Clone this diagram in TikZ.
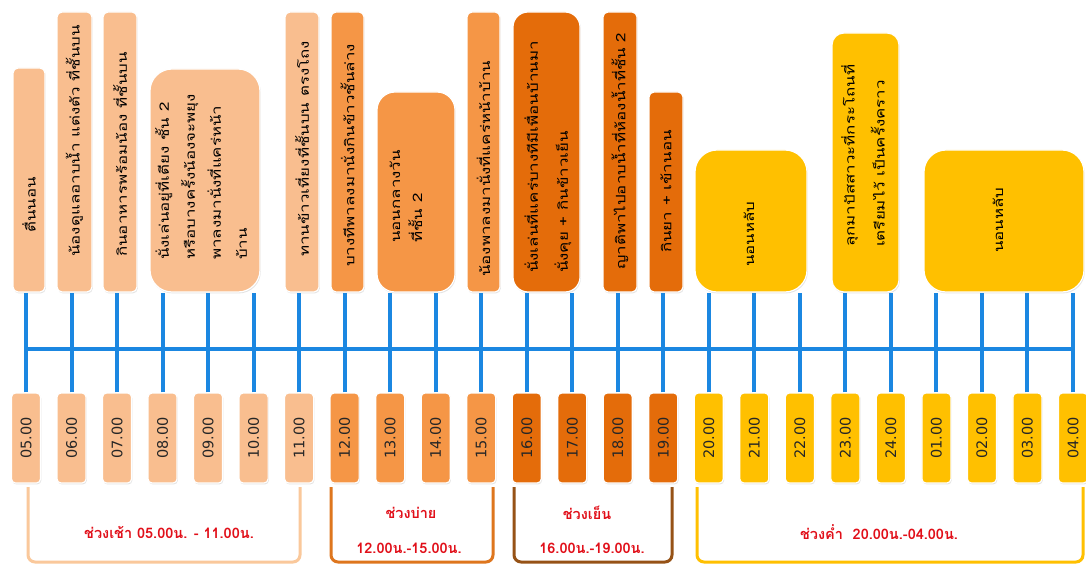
\documentclass[tikz,border=0pt]{standalone}
\usepackage{fontspec}
\newfontfamily\thai[Script=Thai]{Loma}
\newfontfamily\thaiw[Script=Thai,FakeStretch=1.3]{Loma}
\newfontfamily\dv{DejaVu Sans}
\usetikzlibrary{shadows}
\definecolor{peach}{RGB}{249,190,143}
\definecolor{midor}{RGB}{245,150,70}
\definecolor{darkor}{RGB}{228,108,10}
\definecolor{gold}{RGB}{255,192,0}
\definecolor{tblue}{RGB}{27,135,225}
\definecolor{brpeach}{RGB}{250,200,155}
\definecolor{brorange}{RGB}{222,118,30}
\definecolor{brbrown}{RGB}{150,82,22}
\definecolor{redtxt}{RGB}{225,15,25}
\begin{document}
\begin{tikzpicture}[x=1pt,y=-1pt,
  box/.style={draw=white, line width=1.2pt, rounded corners=#1, inner sep=0pt,
    drop shadow={opacity=0.22, shadow xshift=0.8pt, shadow yshift=-1.4pt}},
  tbox/.style={box=4pt, minimum width=29pt, minimum height=90pt,
    font=\dv\fontsize{14.5}{15}\selectfont, text=black!85},
  tt/.style={rotate=90, anchor=west, align=left, inner sep=0pt,
    font=\thaiw\fontsize{13}{26}\selectfont},
  tick/.style={draw=tblue, line width=4pt},
  brk/.style={line width=3pt, rounded corners=7pt},
  btxt/.style={text=redtxt, font=\thai\bfseries\fontsize{14.5}{14.5}\selectfont, inner sep=0pt}]
\useasboundingbox (0,0) rectangle (1086,564);
\fill[white] (0,0) rectangle (1086,564);

% top boxes
\node[box=5pt, fill=peach, minimum width=32pt, minimum height=224pt] (b1) at (29,180) {};
\node[box=5pt, fill=peach, minimum width=35pt, minimum height=280pt] (b2) at (74.5,152) {};
\node[box=5pt, fill=peach, minimum width=34pt, minimum height=280pt] (b3) at (120,152) {};
\node[box=22pt, fill=peach, minimum width=110pt, minimum height=223pt] (b4) at (205,180.5) {};
\node[box=5pt, fill=peach, minimum width=34pt, minimum height=280pt] (b5) at (302,152) {};
\node[box=5pt, fill=midor, minimum width=33pt, minimum height=280pt] (b6) at (347.5,152) {};
\node[box=18pt, fill=midor, minimum width=78pt, minimum height=200pt] (b7) at (416,192) {};
\node[box=5pt, fill=midor, minimum width=33pt, minimum height=280pt] (b8) at (483.5,152) {};
\node[box=15pt, fill=darkor, minimum width=67pt, minimum height=280pt] (b9) at (546.5,152) {};
\node[box=5pt, fill=darkor, minimum width=34pt, minimum height=280pt] (b10) at (620,152) {};
\node[box=5pt, fill=darkor, minimum width=34pt, minimum height=200pt] (b11) at (666,192) {};
\node[box=22pt, fill=gold, minimum width=112pt, minimum height=142pt] (b12) at (751,221) {};
\node[box=12pt, fill=gold, minimum width=67pt, minimum height=259pt] (b13) at (865.5,162.5) {};
\node[box=22pt, fill=gold, minimum width=160pt, minimum height=142pt] (b14) at (1004,221) {};

% texts in top boxes
\node[tt] (t1) at (29,233) {ตื่นนอน};
\node[tt] (t2) at (74.5,257) {น้องดูแลอาบน้ำ แต่งตัว ที่ชั้นบน};
\node[tt] (t3) at (120,257) {กินอาหารพร้อมน้อง ที่ชั้นบน};
\node[tt] (t4) at (201,260) {นั่งเล่นอยู่ที่เตียง ชั้น 2\\หรือบางครั้งน้องจะพยุง\\พาลงมานั่งที่แคร่หน้า\\บ้าน};
\node[tt] (t5) at (302,257) {ทานข้าวเที่ยงที่ชั้นบน ตรงโถง};
\node[tt] (t6) at (347.5,267) {บางทีพาลงมานั่งกินข้าวชั้นล่าง};
\node[tt, font=\thaiw\fontsize{13}{22}\selectfont] (t7) at (406,243) {นอนกลางวัน\\ที่ชั้น 2};
\node[tt] (t8) at (483.5,277) {น้องพาลงมานั่งที่แคร่หน้าบ้าน};
\node[tt, font=\thaiw\fontsize{13}{30}\selectfont] (t9) at (548,273) {นั่งเล่นที่แคร่บางทีมีเพื่อนบ้านมา\\นั่งคุย + กินข้าวเย็น};
\node[tt] (t10) at (620,270) {ญาติพาไปอาบน้ำที่ห้องน้ำที่ชั้น 2};
\node[tt] (t11) at (666,253) {กินยา + เข้านอน};
\node[tt] (t12) at (749,267) {นอนหลับ};
\node[tt, font=\thaiw\fontsize{13}{30}\selectfont] (t13) at (863,247) {ลุกมาปัสสาวะที่กระโถนที่\\เตรียมไว้ เป็นครั้งคราว};
\node[tt] (t14) at (998,253) {นอนหลับ};

% time boxes
\foreach \i/\lab/\col in {0/05.00/peach,1/06.00/peach,2/07.00/peach,3/08.00/peach,4/09.00/peach,5/10.00/peach,6/11.00/peach,
  7/12.00/midor,8/13.00/midor,9/14.00/midor,10/15.00/midor,
  11/16.00/darkor,12/17.00/darkor,13/18.00/darkor,14/19.00/darkor,
  15/20.00/gold,16/21.00/gold,17/22.00/gold,18/23.00/gold,19/24.00/gold,20/01.00/gold,21/02.00/gold,22/03.00/gold,23/04.00/gold}
  \node[tbox, fill=\col] (tm\i) at ({26+45.52*\i},438) {\rotatebox{90}{\lab}};

% ticks
\foreach \i/\j in {0/1,1/2,2/3,3/4,4/4,5/4,6/5,7/6,8/7,9/7,10/8,11/9,12/9,13/10,14/11,15/12,16/12,17/12,18/13,19/13,20/14,21/14,22/14,23/14}
  \draw[tick] (tm\i.north) -- (tm\i.north |- b\j.south);
\coordinate (hl) at (0,349);
\draw[tick] (tm0.north |- hl) -- (tm23.north |- hl);

% brackets
\draw[brk, brpeach] (28,487) -- (28,562) -- (300,562) -- (300,487);
\draw[brk, brorange] (331,487) -- (331,562) -- (493,562) -- (493,487);
\draw[brk, brbrown] (514,487) -- (514,562) -- (672,562) -- (672,487);
\draw[brk, gold] (697,487) -- (697,562) -- (1083,562) -- (1083,487);

\node[btxt] (l1) at (169,532) {ช่วงเช้า 05.00น. - 11.00น.};
\node[btxt] (l2a) at (411,513) {ช่วงบ่าย};
\node[btxt] (l2b) at (409,548) {12.00น.-15.00น.};
\node[btxt] (l3a) at (587,513) {ช่วงเย็น};
\node[btxt] (l3b) at (592,548) {16.00น.-19.00น.};
\node[btxt] (l4) at (879,532) {ช่วงค่ำ~~20.00น.-04.00น.};
\end{tikzpicture}
\end{document}
